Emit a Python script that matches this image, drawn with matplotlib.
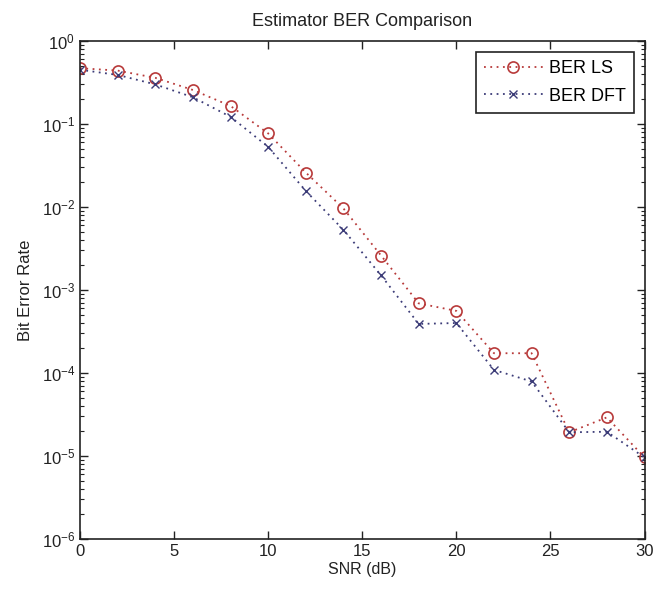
import numpy as np
import matplotlib.pyplot as plt
from matplotlib.ticker import LogLocator, FixedLocator, FuncFormatter, NullLocator, NullFormatter

plt.rcParams['font.family'] = ['Liberation Sans', 'DejaVu Sans']
plt.rcParams['mathtext.fontset'] = 'custom'
plt.rcParams['mathtext.rm'] = 'Liberation Sans'
plt.rcParams['axes.unicode_minus'] = False

# SNR points and BER curves
snr = [0, 2, 4, 6, 8, 10, 12, 14, 16, 18, 20, 22, 24, 26, 28, 30]
ber_ls = [0.47, 0.44, 0.36, 0.257, 0.165, 0.077, 0.026, 0.0096, 0.0026,
          6.9e-4, 5.6e-4, 1.73e-4, 1.73e-4, 1.93e-5, 2.92e-5, 9.6e-6]
ber_dft = [0.45, 0.39, 0.30, 0.21, 0.122, 0.053, 0.0156, 0.0053, 0.0015,
           3.9e-4, 4.0e-4, 1.09e-4, 7.9e-5, 1.93e-5, 1.96e-5, 9.6e-6]
x_ticks = [0, 5, 10, 15, 20, 25, 30]
y_decades = [1e-6, 1e-5, 1e-4, 1e-3, 1e-2, 1e-1, 1]

fig = plt.figure(figsize=(6.53, 5.94), dpi=100)
ax = fig.add_axes([0.1225, 0.0926, 0.8645, 0.8384])

ax.semilogy(snr, ber_ls, linestyle=(0, (1, 2.5)), color='#b83a3a', marker='o',
            markersize=8, markerfacecolor='none', markeredgewidth=1.2,
            linewidth=1.3, label='BER LS')
ax.semilogy(snr, ber_dft, linestyle=(0, (1, 2.5)), color='#3c3c78', marker='x',
            markersize=5.5, markeredgewidth=1.0, linewidth=1.3, label='BER DFT')

ax.set_xlim(0, 30)
ax.set_ylim(1e-6, 1)
ax.xaxis.set_major_locator(FixedLocator(x_ticks))
ax.xaxis.set_minor_locator(NullLocator())
ax.yaxis.set_major_locator(FixedLocator(y_decades))
ax.yaxis.set_minor_locator(LogLocator(base=10, subs=np.arange(2, 10), numticks=20))
ax.yaxis.set_major_formatter(FuncFormatter(lambda v, p: r'$\mathregular{10^{%d}}$' % round(np.log10(v))))
ax.yaxis.set_minor_formatter(NullFormatter())

ax.tick_params(which='both', direction='in', top=True, right=True,
               labelsize=12, colors='#222222')
ax.tick_params(which='major', length=6, width=1)
ax.tick_params(which='minor', length=3, width=0.8)
for s in ax.spines.values():
    s.set_linewidth(1.2)
    s.set_color('#222222')

ax.set_title('Estimator BER Comparison', fontsize=13, color='#222222', pad=11)
ax.set_xlabel('SNR (dB)', fontsize=11.5, color='#222222', labelpad=2)
ax.set_ylabel('Bit Error Rate', fontsize=12, color='#222222', labelpad=6)

leg = ax.legend(loc='upper right', fontsize=13, fancybox=False, framealpha=1,
                edgecolor='#222222', handlelength=3.3, borderaxespad=0.6,
                handletextpad=0.3, borderpad=0.45, labelspacing=0.6)
leg.get_frame().set_linewidth(1.2)

fig.savefig('out.png', dpi=100)
